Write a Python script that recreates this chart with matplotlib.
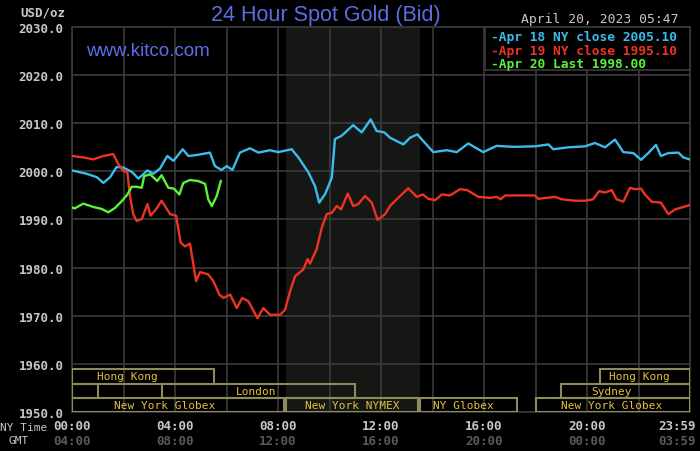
import matplotlib
matplotlib.use("Agg")
import matplotlib.pyplot as plt
from matplotlib.patches import Rectangle
from matplotlib.transforms import ScaledTranslation

# ---------------- data ----------------
blue_t = [0, 0.57, 0.96, 1.22, 1.48, 1.73, 1.99, 2.32, 2.58, 2.93, 3.16, 3.42, 3.70, 3.94, 4.30, 4.52,
          4.84, 5.36, 5.55, 5.81, 6.01, 6.23, 6.52, 6.91, 7.24, 7.69, 8.01, 8.53, 8.79, 9.18, 9.44, 9.60,
          9.83, 10.09, 10.21, 10.47, 10.92, 11.25, 11.60, 11.83, 12.13, 12.35, 12.87, 13.13, 13.41, 13.64,
          14.03, 14.55, 14.94, 15.39, 15.97, 16.49, 17.14, 17.98, 18.50, 18.69, 19.27, 19.92, 20.31, 20.70,
          21.09, 21.41, 21.80, 22.10, 22.38, 22.68, 22.87, 23.16, 23.55, 23.74, 23.98]
blue_v = [2000.2, 1999.5, 1998.8, 1997.6, 1998.8, 2000.9, 2000.8, 1999.9, 1998.5, 2000.2, 1999.5, 2000.6,
          2003.2, 2002.2, 2004.6, 2003.2, 2003.4, 2003.9, 2001.1, 2000.3, 2001.1, 2000.3, 2003.9, 2004.8,
          2003.9, 2004.4, 2004.0, 2004.6, 2002.9, 1999.8, 1996.9, 1993.5, 1995.3, 1998.7, 2006.7, 2007.4,
          2009.6, 2008.1, 2010.8, 2008.4, 2008.1, 2007.0, 2005.6, 2007.0, 2007.7, 2006.3, 2004.0, 2004.4,
          2004.0, 2005.8, 2004.0, 2005.3, 2005.1, 2005.2, 2005.6, 2004.6, 2005.0, 2005.2, 2005.9, 2005.0,
          2006.6, 2004.0, 2003.8, 2002.4, 2003.8, 2005.5, 2003.2, 2003.8, 2003.9, 2002.9, 2002.5]

red_t = [0, 0.44, 0.83, 1.22, 1.60, 1.80, 1.99, 2.15, 2.25, 2.38, 2.51, 2.71, 2.93, 3.05, 3.26, 3.48,
         3.81, 4.04, 4.22, 4.39, 4.58, 4.82, 4.97, 5.29, 5.49, 5.72, 5.88, 6.14, 6.40, 6.61, 6.85, 7.20,
         7.43, 7.69, 8.08, 8.27, 8.47, 8.66, 8.98, 9.15, 9.24, 9.50, 9.70, 9.89, 10.09, 10.28, 10.45,
         10.71, 10.92, 11.12, 11.38, 11.64, 11.87, 12.16, 12.35, 12.61, 13.06, 13.39, 13.62, 13.84, 14.10,
         14.36, 14.68, 15.07, 15.35, 15.78, 16.23, 16.49, 16.65, 16.82, 17.98, 18.10, 18.76, 19.02, 19.53,
         19.92, 20.24, 20.47, 20.70, 20.96, 21.15, 21.41, 21.67, 21.86, 22.10, 22.25, 22.51, 22.87, 23.16,
         23.42, 23.68, 23.98]
red_v = [2003.2, 2002.9, 2002.5, 2003.2, 2003.6, 2001.5, 2000.1, 1999.8, 1994.9, 1991.1, 1989.7, 1990.1,
         1993.2, 1990.8, 1992.1, 1993.9, 1991.1, 1990.8, 1985.2, 1984.4, 1985.0, 1977.2, 1979.1, 1978.6,
         1977.2, 1974.4, 1973.7, 1974.4, 1971.6, 1973.7, 1973.0, 1969.5, 1971.6, 1970.2, 1970.2, 1971.2,
         1975.1, 1978.2, 1979.6, 1981.8, 1980.8, 1983.8, 1988.3, 1991.1, 1991.4, 1992.8, 1992.1, 1995.4,
         1992.8, 1993.2, 1994.9, 1993.5, 1989.9, 1991.1, 1992.8, 1994.2, 1996.5, 1994.7, 1995.2, 1994.3,
         1994.0, 1995.2, 1995.0, 1996.3, 1996.1, 1994.7, 1994.5, 1994.7, 1994.2, 1995.0, 1995.0, 1994.3,
         1994.7, 1994.2, 1993.9, 1993.9, 1994.2, 1995.9, 1995.6, 1996.1, 1994.2, 1993.7, 1996.6, 1996.3,
         1996.4, 1995.2, 1993.7, 1993.5, 1991.1, 1992.1, 1992.5, 1993.0]

green_t = [0, 0.10, 0.44, 0.83, 1.15, 1.41, 1.67, 1.93, 2.15, 2.32, 2.51, 2.71, 2.80, 3.03, 3.31, 3.48,
           3.74, 3.96, 4.17, 4.32, 4.58, 4.90, 5.17, 5.29, 5.43, 5.62, 5.78]
green_v = [1992.5, 1992.3, 1993.3, 1992.6, 1992.2, 1991.5, 1992.4, 1993.8, 1995.2, 1996.8, 1996.8, 1996.6,
           1999.0, 1999.4, 1998.0, 1999.2, 1996.6, 1996.4, 1995.2, 1997.6, 1998.2, 1998.0, 1997.4, 1994.2,
           1992.8, 1994.9, 1998.0]

legend_labels = ["-Apr 18 NY close 2005.10", "-Apr 19 NY close 1995.10", "-Apr 20 Last 1998.00"]

y_ticks = [1950, 1960, 1970, 1980, 1990, 2000, 2010, 2020, 2030]
ny_ticks = [0, 4, 8, 12, 16, 20, 24]
ny_labels = ["00:00", "04:00", "08:00", "12:00", "16:00", "20:00", "23:59"]
gmt_labels = ["04:00", "08:00", "12:00", "16:00", "20:00", "00:00", "03:59"]

# trading sessions: (row, start hour, end hour, label, label centre hour)
sess_row = [0, 0, 1, 1, 1, 2, 2, 2, 2]
sess_start = [0.0, 20.5, 0.0, 3.5, 19.0, 0.0, 8.33, 13.5, 18.0]
sess_end = [5.5, 24.0, 1.0, 11.0, 24.0, 8.25, 13.45, 17.3, 24.0]
sess_label = ["Hong Kong", "Hong Kong", "", "London", "Sydney", "New York Globex",
              "New York NYMEX", "NY Globex", "New York Globex"]
sess_label_x = [2.14, 22.05, 0.5, 7.15, 20.97, 3.61, 10.9, 15.2, 20.97]
row_top = [1958.9, 1955.9, 1952.9]
row_bot = [1955.9, 1952.9, 1950.0]

nymex_open, nymex_close = 8.33, 13.5

# ---------------- style ----------------
BG = "#000000"
GRID = "#3a3a3a"
BLUE = "#3cbcec"
RED = "#ee3322"
GREEN = "#5cf23a"
TITLE = "#5b6ee8"
TXT = "#c8c8c8"
GMT = "#5a5a5a"
SESS_TXT = "#e4c040"
SESS_EDGE = "#8e8a5c"
MONO = "DejaVu Sans Mono"

W, H = 700, 452
fig = plt.figure(figsize=(W / 100, H / 100), dpi=100, facecolor=BG)
ax = fig.add_axes([72 / W, 1 - 413 / H, (690 - 72) / W, (413 - 28) / H], facecolor=BG)

ax.set_xlim(0, 24)
ax.set_ylim(1950, 2030)

# NYMEX shading
ax.axvspan(nymex_open, nymex_close, color="#141714", zorder=0, lw=0)

# grid
ax.set_yticks(y_ticks)
ax.set_yticklabels([f"{v:.1f}" for v in y_ticks], fontfamily=MONO, fontweight="bold",
                   fontsize=9, color=TXT)
ax.set_xticks(ny_ticks)
ax.set_xticks([2, 6, 10, 14, 18, 22], minor=True)
ax.set_xticklabels([])
ax.tick_params(axis="both", which="both", length=0, pad=6)
ax.grid(True, which="both", color=GRID, lw=1.2, zorder=1)
for s in ax.spines.values():
    s.set_color(GRID)
    s.set_linewidth(1.2)

# series
ax.plot(blue_t, blue_v, color=BLUE, lw=1.7, zorder=4)
ax.plot(red_t, red_v, color=RED, lw=1.7, zorder=4)
ax.plot(green_t, green_v, color=GREEN, lw=1.7, zorder=5)

# sessions
for r, s0, s1, lab, lx in zip(sess_row, sess_start, sess_end, sess_label, sess_label_x):
    ax.add_patch(Rectangle((s0, row_bot[r]), s1 - s0, row_top[r] - row_bot[r], fill=False,
                           edgecolor=SESS_EDGE, lw=1.5, zorder=3))
    if lab:
        ax.text(lx, (row_top[r] + row_bot[r]) / 2, lab, ha="center", va="center",
                fontfamily=MONO, fontsize=8, color=SESS_TXT, zorder=6)

# NY time and GMT labels
xtr = ax.get_xaxis_transform()
for i, (t, lab, glab) in enumerate(zip(ny_ticks, ny_labels, gmt_labels)):
    tr = xtr
    if i == len(ny_ticks) - 1:
        tr = xtr + ScaledTranslation(-13 / 100, 0, fig.dpi_scale_trans)
    ax.text(t, -0.036, lab, transform=tr, ha="center", va="center",
            fontfamily=MONO, fontweight="bold", fontsize=9, color=TXT)
    ax.text(t, -0.075, glab, transform=tr, ha="center", va="center",
            fontfamily=MONO, fontweight="bold", fontsize=9, color=GMT)

# legend box
leg_x0, leg_x1, leg_y0, leg_y1 = 485, 690, 28, 71
fig.patches.append(Rectangle((leg_x0 / W, 1 - leg_y1 / H), (leg_x1 - leg_x0) / W,
                             (leg_y1 - leg_y0) / H, transform=fig.transFigure,
                             facecolor=BG, edgecolor=GRID, lw=1.2, zorder=10))
for i, (lab, col) in enumerate(zip(legend_labels, [BLUE, RED, GREEN])):
    fig.text(491 / W, 1 - (37.5 + 13.7 * i) / H, lab, ha="left", va="center",
             fontfamily=MONO, fontweight="bold", fontsize=9.3, color=col, zorder=11)

# titles and other texts
fig.text(326 / W, 1 - 15 / H, "24 Hour Spot Gold (Bid)", ha="center", va="center",
         fontfamily="Liberation Sans", fontsize=15.5, color=TITLE)
fig.text(148 / W, 1 - 52 / H, "www.kitco.com", ha="center", va="center",
         fontfamily="Liberation Sans", fontsize=13.5, color=TITLE, zorder=6)
fig.text(600 / W, 1 - 19.5 / H, "April 20, 2023 05:47", ha="center", va="center",
         fontfamily=MONO, fontsize=9.4, color=TXT)
fig.text(43 / W, 1 - 13 / H, "USD/oz", ha="center", va="center",
         fontfamily=MONO, fontweight="bold", fontsize=9, color=TXT)
fig.text(24 / W, 1 - 428 / H, "NY Time", ha="center", va="center",
         fontfamily=MONO, fontsize=8, color=TXT)
fig.text(19 / W, 1 - 441 / H, "GMT", ha="center", va="center",
         fontfamily=MONO, fontsize=8, color=TXT)

fig.savefig("out.png", dpi=100, facecolor=BG)
